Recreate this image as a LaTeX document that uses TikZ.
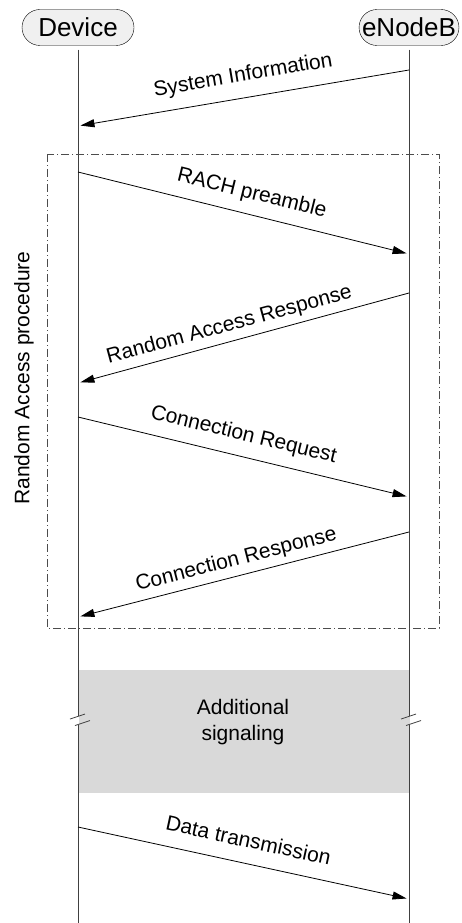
\documentclass[tikz,border=0pt]{standalone}
\usepackage{fontspec}
\setmainfont{Liberation Sans}
\usetikzlibrary{arrows.meta}

\begin{document}
\begin{tikzpicture}[x=1pt, y=-1pt,
    actor/.style={draw, fill=gray!12, rounded corners=18pt, minimum height=36pt, inner xsep=3pt, font=\fontsize{26}{30}\selectfont},
    life/.style={line width=1pt, black!75},
    msg/.style={-{Triangle[length=14pt, width=8pt]}, line width=0.8pt, shorten >=2.5pt},
    lbl/.style={sloped, inner sep=0pt, text depth=0pt, font=\fontsize{21}{26}\selectfont}]
  \useasboundingbox (0,0) rectangle (461,923);
  \node[actor, minimum width=112pt] (dev) at (78,27.5) {Device};
  \node[actor] (enb) at (409,27.5) {eNodeB};
  % additional signaling block
  \fill[gray!30] (79,670) rectangle (410,793);
  \node[align=center, font=\fontsize{21}{26}\selectfont] (sig) at (243,722) {Additional\\signaling};
  % lifelines with break marks
  \foreach \n in {dev, enb} {
    \draw[life] ([yshift=-4pt]\n.south) -- (\n |- 0,716);
    \draw[life] (\n |- 0,724.5) -- (\n |- 0,923);
    \draw[life, line width=0.8pt] ([xshift=-8pt]\n |- 0,719) -- ++(15,-5);
    \draw[life, line width=0.8pt] ([xshift=-3pt]\n |- 0,725.5) -- ++(15,-5);
  }
  % random access group
  \draw[black!70, line width=0.8pt, dash pattern=on 8pt off 3pt on 1pt off 3pt] (47,154) rectangle (439,628);
  \node[rotate=90, font=\fontsize{21}{26}\selectfont] (ra) at (24,378) {Random Access procedure};
  % messages
  \foreach \ya/\yb/\src/\dst/\p/\d/\txt in {
      70/126/enb/dev/0.49/16/System Information,
      172/254/dev/enb/0.51/15/RACH preamble,
      293/383/enb/dev/0.53/10/Random Access Response,
      417/497/dev/enb/0.485/15.5/Connection Request,
      532/617/enb/dev/0.51/10/Connection Response,
      827/899/dev/enb/0.5/15.5/Data transmission} {
    \draw[msg] (\src |- 0,\ya) -- (\dst |- 0,\yb) node[lbl, pos=\p, above=\d pt] {\txt};
  }
\end{tikzpicture}
\end{document}
